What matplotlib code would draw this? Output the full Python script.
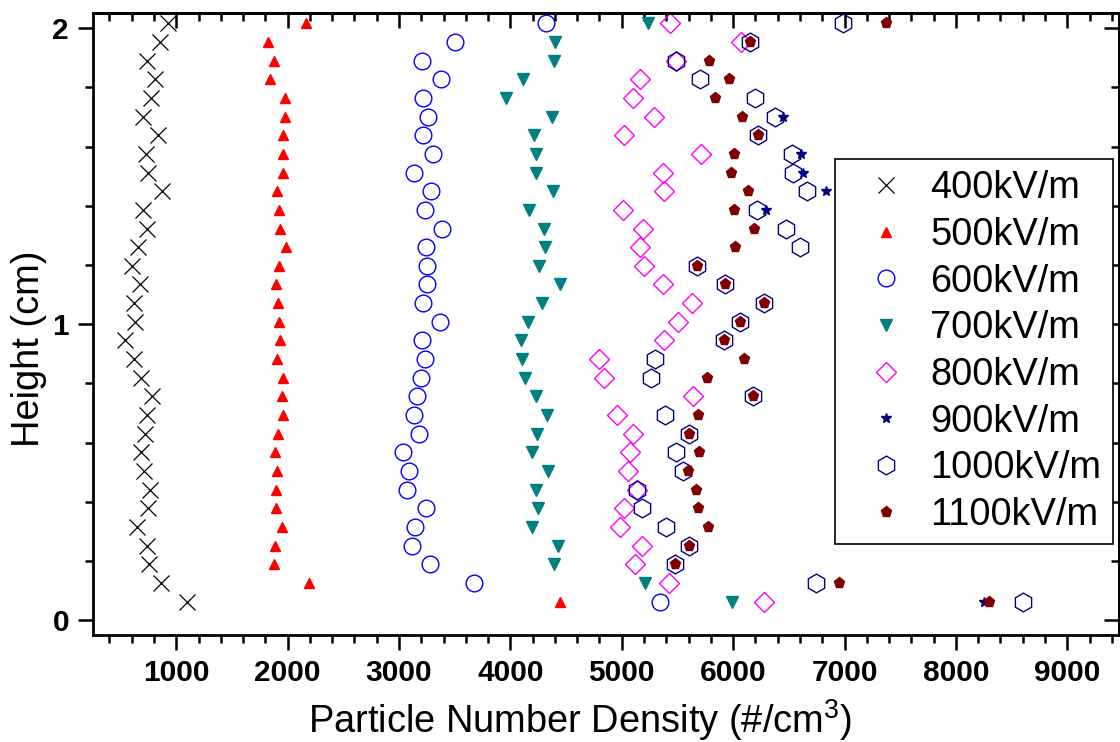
import matplotlib
matplotlib.use("Agg")
import matplotlib.pyplot as plt
from matplotlib.ticker import MultipleLocator, NullFormatter

plt.rcParams["font.family"] = ["Liberation Sans", "DejaVu Sans"]
plt.rcParams["mathtext.fontset"] = "custom"
plt.rcParams["mathtext.rm"] = "Liberation Sans"
plt.rcParams["mathtext.it"] = "Liberation Sans:italic"
plt.rcParams["mathtext.bf"] = "Liberation Sans:bold"

# heights (cm), bottom to top
height = [0.063, 0.126, 0.189, 0.252, 0.315, 0.378, 0.441, 0.504, 0.567, 0.630,
          0.693, 0.756, 0.819, 0.882, 0.945, 1.008, 1.071, 1.134, 1.197, 1.260,
          1.323, 1.386, 1.449, 1.512, 1.575, 1.638, 1.701, 1.764, 1.827, 1.890,
          1.953, 2.016]

d400 = [1094, 864, 759, 735, 646, 744, 765, 714, 685, 723, 739, 780, 685, 617, 536, 630,
        625, 679, 604, 655, 735, 705, 873, 744, 730, 834, 700, 774, 810, 735, 858, 923]
d500 = [4450, 2194, 1874, 1886, 1946, 1895, 1895, 1901, 1886, 1916, 1955, 1946, 1963, 1901, 1934, 1925,
        1910, 1895, 1925, 1985, 1931, 1925, 1904, 1955, 1955, 1955, 1979, 1979, 1838, 1874, 1820, 2164]
d600 = [5340, 3673, 3276, 3120, 3144, 3240, 3070, 3090, 3036, 3180, 3135, 3159, 3195, 3234, 3210, 3368,
        3219, 3255, 3255, 3240, 3383, 3231, 3290, 3135, 3305, 3219, 3260, 3216, 3374, 3210, 3502, 4316]
d700 = [5988, 5205, 4396, 4429, 4195, 4249, 4231, 4339, 4195, 4240, 4325, 4231, 4130, 4106, 4097, 4157,
        4280, 4444, 4256, 4309, 4306, 4166, 4384, 4226, 4231, 4211, 4375, 3957, 4115, 4390, 4405, 5235]
d800 = [6273, 5427, 5122, 5182, 4988, 5017, 5137, 5053, 5077, 5098, 4958, 5642, 4839, 4800, 5376, 5501,
        5629, 5370, 5203, 5161, 5191, 5011, 5382, 5370, 5708, 5024, 5286, 5098, 5161, 5490, 6069, 5436]
# 900 kV/m: only the points not hidden under the other markers
h900 = [0.063, 1.386, 1.449, 1.512, 1.575, 1.701]
d900 = [8249, 6293, 6831, 6625, 6610, 6452]
d1000 = [8601, 6746, 5475, 5607, 5400, 5182, 5137, 5547, 5490, 5607, 5385, 6174, 5262, 5302, 5914, 6064,
         6273, 5929, 5675, 6596, 6473, 6213, 6661, 6535, 6526, 6221, 6377, 6192, 5705, 5487, 6147, 6990]
d1100 = [8296, 6949, 5475, 5600, 5770, 5684, 5666, 5591, 5696, 5600, 5681, 6174, 5765, 6100, 5914, 6064,
         6273, 5929, 5675, 6018, 6186, 6012, 6138, 5979, 6012, 6221, 6084, 5833, 5965, 5780, 6153, 7369]

W, H = 1120, 742
fig = plt.figure(figsize=(W / 100, H / 100), dpi=100)
ax = fig.add_axes([92.7 / W, 107 / H, (1118.5 - 92.7) / W, (635 - 13.3) / H])

ax.plot(d400, height, ls="none", marker="x", ms=12, mew=0.9, color="black", label="400kV/m")
ax.plot(d500, height, ls="none", marker="^", ms=7.5, color="#FF0000", mec="#FF0000", label="500kV/m")
ax.plot(d600, height, ls="none", marker="o", ms=12, mew=1.0, mfc="none", color="#0000FF", label="600kV/m")
ax.plot(d700, height, ls="none", marker="v", ms=8, color="#008080", label="700kV/m")
ax.plot(d800, height, ls="none", marker="D", ms=10.5, mew=1.0, mfc="none", color="#FF00FF", label="800kV/m")
ax.plot(d900, h900, ls="none", marker="*", ms=7.5, color="#000080", label="900kV/m")
ax.plot(d1000, height, ls="none", marker="h", ms=13.5, mew=1.0, mfc="none", color="#000080", label="1000kV/m")
ax.plot(d1100, height, ls="none", marker="p", ms=8, color="#800000", label="1100kV/m")

ax.set_xlim(250, 9460)
ax.set_ylim(-0.05, 2.05)

for sp in ax.spines.values():
    sp.set_linewidth(2)

ax.xaxis.set_major_locator(MultipleLocator(1000))
ax.xaxis.set_minor_locator(MultipleLocator(200))
ax.yaxis.set_major_locator(MultipleLocator(1))
ax.yaxis.set_minor_locator(MultipleLocator(0.2))
ax.tick_params(which="major", direction="out", length=11, width=1.8, labelsize=21.5, pad=6)
ax.tick_params(which="minor", direction="out", length=5.5, width=1.8)
for lab in ax.get_xticklabels() + ax.get_yticklabels():
    lab.set_fontweight("bold")

# mirrored inward ticks on top and right
top = ax.secondary_xaxis("top")
right = ax.secondary_yaxis("right")
for sec, axis in [(top, top.xaxis), (right, right.yaxis)]:
    sec.spines[:].set_linewidth(2)
    sec.tick_params(which="major", direction="in", length=11, width=1.8)
    sec.tick_params(which="minor", direction="in", length=5.5, width=1.8)
    axis.set_major_formatter(NullFormatter())
top.xaxis.set_major_locator(MultipleLocator(1000))
top.xaxis.set_minor_locator(MultipleLocator(200))
right.yaxis.set_major_locator(MultipleLocator(1))
right.yaxis.set_minor_locator(MultipleLocator(0.2))

ax.set_xlabel("Particle Number Density (#/cm$^3$)", fontsize=27.4)
ax.xaxis.set_label_coords(0.475, -0.1)
ax.set_ylabel("Height (cm)", fontsize=27.4)
ax.yaxis.set_label_coords(-0.045, 0.46)

leg = ax.legend(loc="upper left", bbox_to_anchor=(835 / W, 1 - 159 / H),
                bbox_transform=fig.transFigure, borderaxespad=0, fontsize=27.4,
                frameon=True, fancybox=False, framealpha=1, edgecolor="black",
                borderpad=0.3, handlelength=2.1, handletextpad=0.1, labelspacing=0.28)
leg.get_frame().set_linewidth(1.2)

fig.savefig("out.png", dpi=100)
